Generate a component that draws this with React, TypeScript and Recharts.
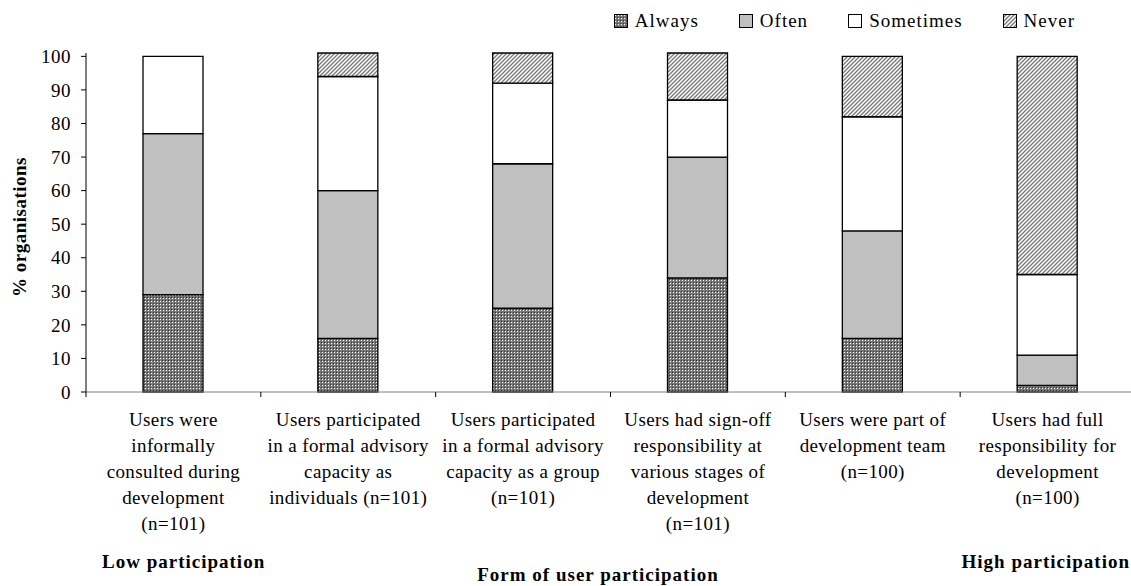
import { BarChart, Bar, XAxis, YAxis } from 'recharts';

// form of user participation, one entry per bar (label lines as printed)
const categoryLines: string[][] = [
  ['Users were', 'informally', 'consulted during', 'development', '(n=101)'],
  ['Users participated', 'in a formal advisory', 'capacity as', 'individuals (n=101)'],
  ['Users participated', 'in a formal advisory', 'capacity as a group', '(n=101)'],
  ['Users had sign-off', 'responsibility at', 'various stages of', 'development', '(n=101)'],
  ['Users were part of', 'development team', '(n=100)'],
  ['Users had full', 'responsibility for', 'development', '(n=100)'],
];

const always = [29, 16, 25, 34, 16, 2];
const often = [48, 44, 43, 36, 32, 9];
const sometimes = [23, 34, 24, 17, 34, 24];
const never = [0, 7, 9, 14, 18, 65];

const yTicks = [0, 10, 20, 30, 40, 50, 60, 70, 80, 90, 100];

const series = [
  { key: 'always', label: 'Always', fill: 'url(#pat-always)' },
  { key: 'often', label: 'Often', fill: '#c0c0c0' },
  { key: 'sometimes', label: 'Sometimes', fill: '#ffffff' },
  { key: 'never', label: 'Never', fill: 'url(#pat-never)' },
];

const data = categoryLines.map((lines, i) => ({
  name: lines.join(' '),
  always: always[i],
  often: often[i],
  sometimes: sometimes[i],
  never: never[i],
}));

const FONT = '"Liberation Serif", "Times New Roman", serif';

const CategoryTick = (props: any) => {
  const { x, y, index, payload } = props;
  const half = payload?.offset ?? 87;
  const lines = categoryLines[index] || [];
  return (
    <g>
      <line x1={x - half} x2={x - half} y1={y} y2={y + 5} stroke="#000" strokeWidth={1} />
      {index === categoryLines.length - 1 && (
        <line x1={x + half} x2={x + half} y1={y} y2={y + 5} stroke="#000" strokeWidth={1} />
      )}
      <text
        x={x}
        y={y + 34}
        textAnchor="middle"
        fill="#000"
        style={{ fontFamily: FONT, fontSize: 19, letterSpacing: 0.4 }}
      >
        {lines.map((l, i) => (
          <tspan key={i} x={x} dy={i === 0 ? 0 : 26}>
            {l}
          </tspan>
        ))}
      </text>
    </g>
  );
};

const Swatch = ({ fill }: { fill: string }) => (
  <svg width={14} height={14} style={{ display: 'block' }}>
    <rect x={0.5} y={0.5} width={13} height={13} fill={fill} stroke="#000" strokeWidth={1} />
  </svg>
);

export default function App() {
  return (
    <div
      style={{
        position: 'absolute',
        left: 0,
        top: 0,
        width: 1131,
        height: 586,
        overflow: 'hidden',
        background: '#fff',
        fontFamily: FONT,
      }}
    >
      <svg width={0} height={0} style={{ position: 'absolute' }}>
        <defs>
          <pattern id="pat-always" patternUnits="userSpaceOnUse" width={3} height={3}>
            <rect x={0} y={0} width={3} height={3} fill="#777" />
            <rect x={0} y={0} width={1} height={1} fill="#333" />
            <rect x={1} y={1} width={1} height={1} fill="#fff" />
          </pattern>
          <pattern id="pat-never" patternUnits="userSpaceOnUse" width={4} height={4}>
            <rect x={0} y={0} width={4} height={4} fill="#fff" />
            <path d="M-1,1 l2,-2 M0,4 l4,-4 M3,5 l2,-2" stroke="#777" strokeWidth={1.3} />
          </pattern>
        </defs>
      </svg>

      <BarChart
        width={1137}
        height={586}
        data={data}
        margin={{ top: 53, right: 2, bottom: 0, left: 0 }}
        barSize={60}
      >
        <XAxis
          dataKey="name"
          height={194}
          interval={0}
          tickLine={false}
          tickSize={0}
          tickMargin={0}
          axisLine={{ stroke: '#808080', strokeWidth: 1 }}
          tick={<CategoryTick />}
        />
        <YAxis
          width={86}
          domain={[0, 100]}
          ticks={yTicks}
          interval={0}
          tickSize={5}
          tickMargin={10}
          axisLine={{ stroke: '#000', strokeWidth: 1 }}
          tickLine={{ stroke: '#000', strokeWidth: 1 }}
          tick={{ fill: '#000', fontSize: 19, fontFamily: FONT, letterSpacing: 0.5 }}
        />
        {series.map((s) => (
          <Bar
            key={s.key}
            dataKey={s.key}
            stackId="a"
            fill={s.fill}
            stroke="#000"
            strokeWidth={1.3}
            isAnimationActive={false}
          />
        ))}
      </BarChart>

      {/* legend */}
      <div
        style={{
          position: 'absolute',
          top: 10.5,
          right: 56,
          display: 'flex',
          gap: 40,
          fontSize: 19,
          lineHeight: '20px',
          letterSpacing: 1,
          color: '#000',
        }}
      >
        {series.map((s) => (
          <div key={s.key} style={{ display: 'flex', alignItems: 'center', gap: 7 }}>
            <Swatch fill={s.fill} />
            <span>{s.label}</span>
          </div>
        ))}
      </div>

      {/* axis titles */}
      <svg
        width={1131}
        height={586}
        style={{ position: 'absolute', left: 0, top: 0, pointerEvents: 'none' }}
      >
        <text
          transform="translate(26,227) rotate(-90)"
          textAnchor="middle"
          style={{ fontFamily: FONT, fontSize: 19, fontWeight: 'bold', letterSpacing: 0.5 }}
        >
          % organisations
        </text>
        <text
          x={102}
          y={568}
          style={{ fontFamily: FONT, fontSize: 19, fontWeight: 'bold', letterSpacing: 1 }}
        >
          Low participation
        </text>
        <text
          x={1130}
          y={568}
          textAnchor="end"
          style={{ fontFamily: FONT, fontSize: 19, fontWeight: 'bold', letterSpacing: 1 }}
        >
          High participation
        </text>
        <text
          x={598}
          y={581}
          textAnchor="middle"
          style={{ fontFamily: FONT, fontSize: 19, fontWeight: 'bold', letterSpacing: 1 }}
        >
          Form of user participation
        </text>
      </svg>
    </div>
  );
}
